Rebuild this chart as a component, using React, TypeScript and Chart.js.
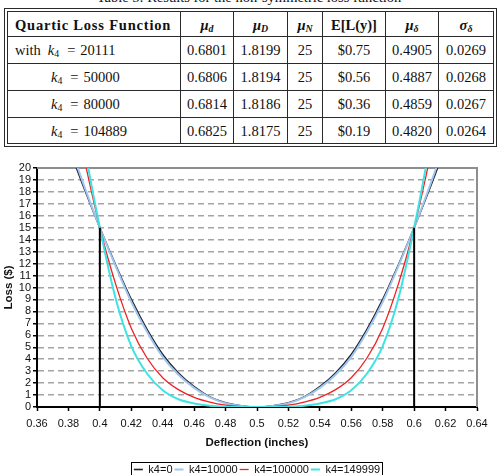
import React, { useEffect, useRef } from "react";
import { Chart, registerables } from "chart.js";

Chart.register(...registerables);

// ---- Table data ----
const tableTitle = "Table 5: Results for the non-symmetric loss function";
const k4Values = ["20111", "50000", "80000", "104889"];
const muSmallD = ["0.6801", "0.6806", "0.6814", "0.6825"];
const muBigD = ["1.8199", "1.8194", "1.8186", "1.8175"];
const muN = ["25", "25", "25", "25"];
const expectedLoss = ["$0.75", "$0.56", "$0.36", "$0.19"];
const muDelta = ["0.4905", "0.4887", "0.4859", "0.4820"];
const sigmaDelta = ["0.0269", "0.0268", "0.0267", "0.0264"];

// ---- Chart data ----
const deflection = [
  0.38, 0.39, 0.4, 0.41, 0.42, 0.43, 0.44, 0.45, 0.46, 0.47, 0.48, 0.49, 0.5,
  0.51, 0.52, 0.53, 0.54, 0.55, 0.56, 0.57, 0.58, 0.59, 0.6, 0.61, 0.62,
];
const lossK0 = [
  21.8, 18.3, 15, 11.9, 9.0, 6.5, 4.4, 2.85, 1.7, 0.85, 0.35, 0.1, 0,
  0.1, 0.35, 0.85, 1.7, 2.85, 4.4, 6.5, 9.0, 11.9, 15, 18.3, 21.8,
];
const lossK10000 = [
  22.2, 18.5, 15, 11.8, 8.8, 6.3, 4.2, 2.7, 1.6, 0.8, 0.32, 0.09, 0,
  0.09, 0.32, 0.8, 1.6, 2.7, 4.2, 6.3, 8.8, 11.8, 15, 18.5, 22.2,
];
const lossK100000 = [
  27, 20.8, 15, 10.3, 6.6, 4.1, 2.45, 1.45, 0.8, 0.4, 0.15, 0.03, 0,
  0.03, 0.15, 0.4, 0.8, 1.45, 2.45, 4.1, 6.6, 10.3, 15, 20.8, 27,
];
const lossK149999 = [
  31, 22, 15, 9.1, 5.1, 2.8, 1.4, 0.65, 0.3, 0.1, 0.02, 0, 0,
  0, 0.02, 0.1, 0.3, 0.65, 1.4, 2.8, 5.1, 9.1, 15, 22, 31,
];
const seriesLabels = ["k4=0", "k4=10000", "k4=100000", "k4=149999"];
const specLimits = [0.4, 0.6];
const specLoss = 15;

const xTicks = [0.36, 0.38, 0.4, 0.42, 0.44, 0.46, 0.48, 0.5, 0.52, 0.54, 0.56, 0.58, 0.6, 0.62, 0.64];
const yTicks = [0, 1, 2, 3, 4, 5, 6, 7, 8, 9, 10, 11, 12, 13, 14, 15, 16, 17, 18, 19, 20];

const SANS = "'Liberation Sans', Arial, sans-serif";
const SERIF = "'Liberation Serif', 'Times New Roman', serif";

const colEdges = [8, 180, 233, 287, 322, 385, 438, 493];
const rowEdges = [12, 36, 63, 90, 117, 143];

const subStyle: React.CSSProperties = { fontSize: "68%", verticalAlign: "-0.25em", lineHeight: 0 };

const Mu = ({ sub, bold, sym = "μ" }: { sub: string; bold?: boolean; sym?: string }) => (
  <span style={{ fontWeight: bold ? 700 : 400 }}>
    <i>{sym}</i>
    <sub style={{ ...subStyle, fontStyle: "italic" }}>{sub}</sub>
  </span>
);

const K4 = ({ value }: { value: string }) => (
  <span>
    <i>k</i>
    <sub style={subStyle}>4</sub>
    <span style={{ margin: "0 5px 0 8px" }}>=</span>
    {value}
  </span>
);

function ResultsTable() {
  const header: React.ReactNode[] = [
    <span style={{ fontWeight: 700, letterSpacing: "0.8px" }}>Quartic Loss Function</span>,
    <Mu sub="d" bold />,
    <Mu sub="D" bold />,
    <Mu sub="N" bold />,
    <b>E[L(y)]</b>,
    <Mu sub="δ" bold />,
    <Mu sub="δ" bold sym="σ" />,
  ];
  const rows: React.ReactNode[][] = k4Values.map((k, i) => [
    i === 0 ? (
      <span>
        with
        <span style={{ marginLeft: 7 }}>
          <K4 value={k} />
        </span>
      </span>
    ) : (
      <K4 value={k} />
    ),
    muSmallD[i],
    muBigD[i],
    muN[i],
    expectedLoss[i],
    muDelta[i],
    sigmaDelta[i],
  ]);
  const all = [header, ...rows];
  const lineColor = "#2a2a2a";
  return (
    <div style={{ position: "absolute", left: 0, top: 0, width: 498, height: 148, fontFamily: SERIF, fontSize: 14.5, color: "#111" }}>
      <div
        style={{
          position: "absolute",
          left: 0,
          top: -10,
          width: 498,
          textAlign: "center",
          lineHeight: "14.5px",
          whiteSpace: "nowrap",
        }}
      >
        {tableTitle}
      </div>
      <div
        style={{
          position: "absolute",
          left: 4,
          top: 8,
          width: 493,
          height: 139,
          border: `4px double ${lineColor}`,
          boxSizing: "border-box",
        }}
      />
      {colEdges.slice(1, -1).map((x) => (
        <div key={"v" + x} style={{ position: "absolute", left: x, top: rowEdges[0], width: 1, height: rowEdges[5] - rowEdges[0], background: lineColor }} />
      ))}
      {rowEdges.slice(1, -1).map((y) => (
        <div key={"h" + y} style={{ position: "absolute", left: colEdges[0], top: y, width: colEdges[7] - colEdges[0], height: 1, background: lineColor }} />
      ))}
      {all.map((cells, r) =>
        cells.map((cell, c) => (
          <div
            key={r + "-" + c}
            style={{
              position: "absolute",
              left: colEdges[c] + 1,
              top: rowEdges[r] + 1,
              width: colEdges[c + 1] - colEdges[c] - 1,
              height: rowEdges[r + 1] - rowEdges[r] - 1,
              display: "flex",
              alignItems: "center",
              justifyContent: c === 0 ? "flex-start" : "center",
              paddingLeft: c === 0 ? (r <= 1 ? 6 : 42) : 0,
              boxSizing: "border-box",
              whiteSpace: "nowrap",
              lineHeight: "16px",
            }}
          >
            {cell}
          </div>
        ))
      )}
    </div>
  );
}

// Gray frame on the top and right edges of the plot area
const plotFrame = {
  id: "plotFrame",
  beforeDatasetsDraw(chart: any) {
    const { ctx, chartArea } = chart;
    ctx.save();
    ctx.strokeStyle = "#8e8e8e";
    ctx.lineWidth = 2;
    ctx.beginPath();
    ctx.moveTo(chartArea.left, chartArea.top);
    ctx.lineTo(chartArea.right, chartArea.top);
    ctx.lineTo(chartArea.right, chartArea.bottom);
    ctx.stroke();
    ctx.restore();
  },
};

// Thin box around the legend entries
const legendFrame = {
  id: "legendFrame",
  afterDraw(chart: any) {
    const boxes = chart.legend?.legendHitBoxes;
    if (!boxes || !boxes.length) return;
    const left = Math.min(...boxes.map((b: any) => b.left)) - 3;
    const right = Math.max(...boxes.map((b: any) => b.left + b.width)) + 2;
    const top = Math.min(...boxes.map((b: any) => b.top)) - 2;
    const bottom = Math.max(...boxes.map((b: any) => b.top + b.height)) + 2;
    const { ctx } = chart;
    ctx.save();
    ctx.strokeStyle = "#000";
    ctx.lineWidth = 1;
    ctx.strokeRect(Math.round(left) + 0.5, Math.round(top) + 0.5, Math.round(right - left), Math.round(bottom - top));
    ctx.restore();
  },
};

function LossChart() {
  const canvasRef = useRef<HTMLCanvasElement | null>(null);

  useEffect(() => {
    const canvas = canvasRef.current;
    if (!canvas) return;
    const pts = (ys: number[]) => deflection.map((x, i) => ({ x, y: ys[i] }));
    const curve = (label: string, ys: number[], color: string, width: number, order: number) => ({
      label,
      data: pts(ys),
      borderColor: color,
      backgroundColor: color,
      borderWidth: width,
      pointRadius: 0,
      cubicInterpolationMode: "monotone" as const,
      fill: false,
      order,
    });
    const datasets: any[] = [
      curve(seriesLabels[0], lossK0, "#1e1e2c", 1.6, 4),
      curve(seriesLabels[1], lossK10000, "#9ec6ee", 2, 3),
      curve(seriesLabels[2], lossK100000, "#ee2222", 1.3, 2),
      curve(seriesLabels[3], lossK149999, "#3fe3e3", 2, 1),
      ...specLimits.map((x) => ({
        label: "limit",
        data: [
          { x, y: 0 },
          { x, y: specLoss },
        ],
        borderColor: "#000",
        backgroundColor: "#000",
        borderWidth: 2,
        pointRadius: 0,
        order: 0,
      })),
    ];

    const chart = new Chart(canvas, {
      type: "line",
      data: { datasets },
      options: {
        animation: false,
        responsive: false,
        events: [],
        layout: { padding: { left: 0, right: 21, top: 18, bottom: 0 } },
        scales: {
          x: {
            type: "linear",
            min: 0.36,
            max: 0.64,
            afterBuildTicks: (scale: any) => {
              scale.ticks = xTicks.map((value) => ({ value }));
            },
            afterFit: (scale: any) => {
              scale.height = 55;
            },
            ticks: {
              autoSkip: false,
              maxRotation: 0,
              padding: 6,
              color: "#111",
              font: { family: SANS, size: 11 },
              callback: (v: any) => String(Number(Number(v).toFixed(2))),
            },
            grid: {
              drawOnChartArea: false,
              drawTicks: true,
              tickLength: 4,
              tickColor: "#000",
              tickWidth: 1.5,
            },
            border: { color: "#000", width: 2 },
            title: {
              display: true,
              text: "Deflection (inches)",
              color: "#111",
              font: { family: SANS, size: 11.5, weight: "bold" },
              padding: { top: 0, bottom: 12 },
            },
          },
          y: {
            type: "linear",
            min: 0,
            max: 20,
            afterBuildTicks: (scale: any) => {
              scale.ticks = yTicks.map((value) => ({ value }));
            },
            afterFit: (scale: any) => {
              scale.width = 37;
            },
            ticks: {
              autoSkip: false,
              padding: 2,
              color: "#111",
              font: { family: SANS, size: 11 },
            },
            grid: {
              color: "#a4a4a4",
              lineWidth: 1.5,
              drawTicks: true,
              tickLength: 4,
              tickColor: "#000",
              tickWidth: 1.5,
              tickBorderDash: [],
            },
            border: { color: "#000", width: 2, dash: [6, 4] } as any,
            title: {
              display: true,
              text: "Loss ($)",
              color: "#111",
              font: { family: SANS, size: 11.5, weight: "bold" },
              padding: { top: 2, bottom: 0 },
            },
          },
        },
        plugins: {
          tooltip: { enabled: false },
          legend: {
            display: true,
            position: "bottom",
            fullSize: false,
            labels: {
              usePointStyle: true,
              pointStyle: "line",
              pointStyleWidth: 9,
              padding: 2,
              color: "#111",
              font: { family: SANS, size: 11 },
              filter: (item: any) => item.datasetIndex < seriesLabels.length,
              sort: (a: any, b: any) => a.datasetIndex - b.datasetIndex,
            },
          },
        },
      } as any,
      plugins: [plotFrame, legendFrame],
    });
    return () => chart.destroy();
  }, []);

  return (
    <canvas
      ref={canvasRef}
      width={498}
      height={335}
      style={{ position: "absolute", left: 0, top: 150, width: 498, height: 335 }}
    />
  );
}

export default function App() {
  return (
    <div style={{ position: "fixed", left: 0, top: 0, width: 498, height: 475, overflow: "hidden", background: "#fff" }}>
      <ResultsTable />
      <LossChart />
    </div>
  );
}
